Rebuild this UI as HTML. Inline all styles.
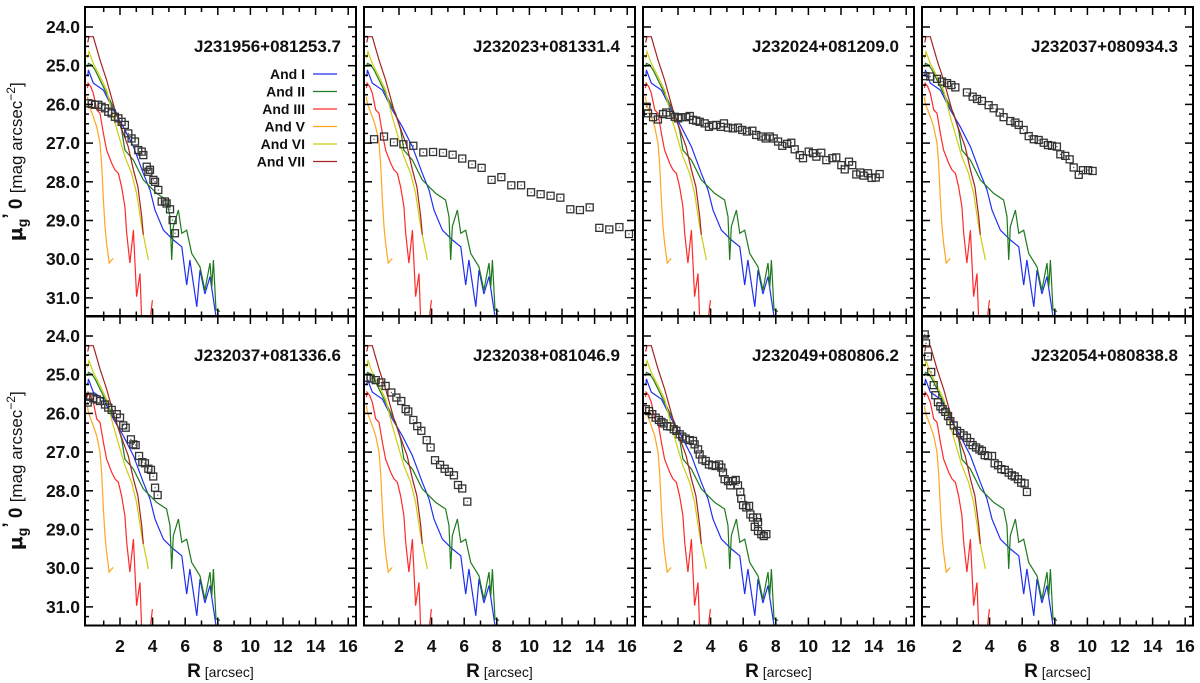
<!DOCTYPE html>
<html><head><meta charset="utf-8"><style>
html,body{margin:0;padding:0;background:#fff;}
svg{display:block;font-family:"Liberation Sans",Arial,sans-serif;}
</style></head><body>
<svg id="chart" width="1200" height="683" viewBox="0 0 1200 683" xmlns="http://www.w3.org/2000/svg"></svg>
<script>
// ---- data ----
const panelTitles=["J231956+081253.7","J232023+081331.4","J232024+081209.0","J232037+080934.3","J232037+081336.6","J232038+081046.9","J232049+080806.2","J232054+080838.8"];
const xTicks=[2,4,6,8,10,12,14,16];
const yTicks=[24,25,26,27,28,29,30,31];
const refNames=["And I","And II","And III","And V","And VI","And VII"];
const refColors=["#1f2ff0","#1e7a1e","#ff2a2a","#ffa520","#cccc10","#a52222"];
const andI_R=[0.02,0.06,0.36,0.98,1.59,2.2,2.82,3.43,3.84,4.15,4.66,5.27,5.79,6.09,6.29,6.71,6.91,7.21,7.52,7.83,8.0];
const andI_M=[25.28,25.11,25.45,25.63,26.14,26.58,27.09,27.78,28.21,28.73,29.25,29.5,29.68,30.67,30.02,31.23,30.28,30.9,30.45,31.31,31.8];
const andII_R=[0.0,0.06,0.26,0.47,0.77,1.38,1.79,2.1,2.3,2.82,3.43,4.25,4.86,5.07,5.17,5.27,5.58,5.79,6.09,6.4,6.91,7.21,7.52,7.63,7.73,7.89,8.14];
const andII_M=[25.03,24.94,24.98,25.11,25.37,25.89,26.23,26.66,27.18,27.44,27.95,28.3,28.47,28.9,30.02,29.16,28.73,29.33,29.25,29.85,30.2,30.8,30.1,30.71,30.02,31.31,31.35];
const andIII_R=[0.0,0.04,0.2,0.36,0.57,0.77,0.98,1.18,1.49,1.69,1.9,2.1,2.3,2.41,2.61,2.82,3.02,3.23,3.33,null,3.84,3.99];
const andIII_M=[25.58,25.45,25.54,25.71,26.14,26.23,26.75,27.18,27.52,27.69,27.78,28.13,28.64,29.33,30.1,29.25,30.97,30.37,31.6,null,31.6,31.06];
const andV_R=[0.0,0.06,0.36,0.57,0.77,0.87,0.98,1.08,1.18,1.34,1.49,1.59];
const andV_M=[25.8,25.98,26.32,26.58,27.0,27.52,28.47,29.16,29.59,30.1,30.02,29.98];
const andVI_R=[0.0,0.1,0.36,0.77,1.18,1.59,2.0,2.3,2.71,3.02,3.33,3.74];
const andVI_M=[24.81,24.64,24.94,25.28,25.63,26.32,26.92,27.35,27.78,28.3,29.16,30.02];
const andVII_R=[0.02,0.1,0.36,0.77,1.18,1.69,2.2,2.5,2.82,3.1,3.33,3.43];
const andVII_M=[24.4,24.25,24.25,24.85,25.37,26.14,26.75,27.09,27.69,28.13,28.9,29.37];
const refR=[andI_R,andII_R,andIII_R,andV_R,andVI_R,andVII_R];
const refM=[andI_M,andII_M,andIII_M,andV_M,andVI_M,andVII_M];
const obj1_R=[0.06,0.26,0.47,0.67,0.87,1.08,1.28,1.49,1.69,1.9,2.1,2.3,2.51,2.71,2.92,3.12,3.33,3.43,3.64,3.74,3.84,4.05,4.15,4.35,4.56,4.76,4.86,5.07,5.23,5.37];
const obj1_M=[25.97,25.99,26.01,26.01,26.06,26.1,26.19,26.23,26.32,26.36,26.45,26.53,26.75,26.88,26.96,27.18,27.22,27.31,27.61,27.74,27.69,27.95,28.0,28.21,28.51,28.51,28.56,28.71,28.99,29.33];
const obj2_R=[0.47,1.08,1.69,2.27,2.88,3.49,4.09,4.7,5.29,5.88,6.48,7.07,7.68,8.28,8.89,9.49,10.1,10.69,11.3,11.9,12.51,13.1,13.7,14.29,14.9,15.52,16.11];
const obj2_M=[26.9,26.83,26.98,27.03,27.07,27.24,27.23,27.25,27.3,27.4,27.55,27.64,27.95,27.88,28.09,28.09,28.27,28.32,28.36,28.41,28.71,28.73,28.66,29.19,29.23,29.17,29.35];
const obj3_R=[0.06,0.16,0.47,0.77,1.08,1.28,1.49,1.8,2.0,2.2,2.51,2.72,2.92,3.12,3.33,3.64,3.9,4.15,4.35,4.62,4.82,5.07,5.37,5.68,5.94,6.23,6.56,6.8,7.11,7.38,7.63,7.87,8.14,8.4,8.69,8.95,9.16,9.47,9.67,10.02,10.28,10.49,10.79,11.1,11.47,11.71,12.02,12.23,12.49,12.69,12.94,13.18,13.39,13.66,13.88,14.13,14.37];
const obj3_M=[26.06,26.23,26.33,26.39,26.25,26.21,26.27,26.32,26.36,26.33,26.33,26.3,26.4,26.42,26.45,26.49,26.58,26.54,26.53,26.58,26.49,26.6,26.62,26.6,26.66,26.7,26.68,26.79,26.83,26.88,26.83,26.88,26.96,27.07,27.02,26.99,27.16,27.31,27.39,27.22,27.26,27.35,27.25,27.44,27.39,27.37,27.57,27.68,27.48,27.57,27.81,27.76,27.84,27.78,27.9,27.89,27.8];
const obj4_R=[0.06,0.36,0.77,1.08,1.39,1.65,1.9,2.61,2.96,3.23,3.53,3.94,4.25,4.62,4.86,5.27,5.58,5.79,6.09,6.4,6.71,7.01,7.32,7.58,7.83,8.13,8.34,8.64,8.91,9.16,9.47,9.73,10.04,10.32];
const obj4_M=[25.27,25.28,25.34,25.41,25.45,25.5,25.56,25.69,25.8,25.86,25.91,26.02,26.1,26.21,26.33,26.43,26.47,26.53,26.66,26.82,26.9,26.92,26.99,27.05,27.07,27.09,27.29,27.33,27.42,27.63,27.82,27.7,27.7,27.72];
const obj5_R=[0.02,0.16,0.36,0.57,0.77,1.08,1.28,1.49,1.8,2.0,2.2,2.35,2.67,2.82,2.96,3.17,3.37,3.53,3.74,3.9,4.04,4.15,4.31];
const obj5_M=[25.72,25.57,25.61,25.64,25.68,25.77,25.85,25.91,26.02,26.11,26.31,26.37,26.67,26.8,26.82,27.1,27.26,27.29,27.43,27.46,27.63,27.92,28.11];
const obj6_R=[0.02,0.26,0.57,0.91,1.18,1.53,1.84,2.14,2.41,2.57,2.88,3.12,3.37,3.7,3.94,4.21,4.52,4.8,5.07,5.37,5.62,5.88,6.19];
const obj6_M=[25.08,25.1,25.14,25.2,25.29,25.46,25.59,25.68,25.89,25.95,26.17,26.33,26.45,26.69,26.88,27.21,27.33,27.43,27.51,27.6,27.85,27.94,28.28];
const obj7_R=[0.02,0.22,0.42,0.63,0.83,0.98,1.12,1.33,1.53,1.74,1.9,2.1,2.26,2.47,2.72,2.92,3.02,3.23,3.33,3.49,3.7,3.9,4.1,4.31,4.52,4.66,4.76,4.86,5.07,5.21,5.37,5.54,5.68,5.82,5.88,5.99,6.19,6.36,6.44,6.6,6.85,6.91,6.71,6.91,7.11,7.26,7.42];
const obj7_M=[25.89,25.94,26.02,26.11,26.17,26.22,26.26,26.33,26.34,26.41,26.45,26.54,26.6,26.65,26.69,26.71,26.8,26.93,27.06,27.19,27.23,27.32,27.34,27.36,27.32,27.4,27.53,27.7,27.75,27.86,27.75,27.72,27.86,28.03,28.2,28.37,28.43,28.39,28.61,28.69,28.69,28.81,28.93,29.04,29.12,29.17,29.12];
const obj8_R=[0.02,0.1,0.22,0.42,0.57,0.67,0.83,0.98,1.12,1.28,1.45,1.59,1.8,2.0,2.2,2.41,2.61,2.82,2.96,3.17,3.37,3.53,3.7,3.9,4.15,4.31,4.52,4.72,4.93,5.17,5.37,5.54,5.74,5.94,6.15,6.29];
const obj8_M=[23.96,24.19,24.53,24.93,25.27,25.53,25.71,25.82,25.89,25.96,26.07,26.2,26.31,26.45,26.51,26.57,26.63,26.74,26.82,26.88,26.93,26.97,27.08,27.1,27.1,27.29,27.34,27.44,27.46,27.53,27.6,27.63,27.7,27.79,27.81,28.03];
const objR=[obj1_R,obj2_R,obj3_R,obj4_R,obj5_R,obj6_R,obj7_R,obj8_R];
const objM=[obj1_M,obj2_M,obj3_M,obj4_M,obj5_M,obj6_M,obj7_M,obj8_M];

// ---- layout ----
const NS="http://www.w3.org/2000/svg";
const svg=document.getElementById('chart');
const lefts=[85,364,643,922], tops=[7,316];
const PW=271, PH=309.5, PXU=16.3, PMAG=38.7;
function mk(tag,attrs,parent){const e=document.createElementNS(NS,tag);for(const k in attrs)e.setAttribute(k,attrs[k]);(parent||svg).appendChild(e);return e;}
const defs=mk('defs',{});

for(let p=0;p<8;p++){
  const col=p%4,row=Math.floor(p/4);
  const L=lefts[col],T=tops[row];
  const xs=r=>L+2.4+r*PXU;
  const ys=m=>T+20+(m-24)*PMAG;
  const g=mk('g',{});
  
  
  const cp=mk('clipPath',{id:'cp'+p},defs);
  mk('rect',{x:L,y:T,width:PW,height:PH},cp);
  const plot=mk('g',{'clip-path':'url(#cp'+p+')'},g);
  for(let k=0;k<refR.length;k++){
    let d='',pen=false;
    for(let i=0;i<refR[k].length;i++){
      if(refR[k][i]===null){pen=false;continue;}
      d+=(pen?'L':'M')+xs(refR[k][i]).toFixed(1)+','+ys(refM[k][i]).toFixed(1);pen=true;
    }
    const path=mk('path',{d:d,fill:'none',stroke:refColors[k],'stroke-width':1.2},plot);
    
    
  }
  for(let i=0;i<objR[p].length;i++){
    const x=xs(objR[p][i]),y=ys(objM[p][i]);
    const r=mk('rect',{x:x-3.5,y:y-3.5,width:7,height:7,fill:'none',stroke:'#333','stroke-width':1.3},plot);
    
    
    mk('rect',{x:x-0.6,y:y-0.6,width:1.2,height:1.2,fill:'#555'},plot);
  }
  const fr=mk('rect',{x:L,y:T,width:PW,height:PH,fill:'none',stroke:'#000','stroke-width':2},g);
  
  
  for(let v=1;v<=16;v++){
    const x=xs(v),len=(v%2===0)?8:5;
    mk('line',{x1:x,y1:T+PH,x2:x,y2:T+PH-len,stroke:'#000','stroke-width':1.5},g);
    mk('line',{x1:x,y1:T,x2:x,y2:T+len,stroke:'#000','stroke-width':1.5},g);
  }
  for(let m=24;m<=31.5;m+=0.25){
    const y=ys(m);if(y<T+1||y>T+PH-1)continue;
    const len=(Math.abs(m-Math.round(m))<0.01)?8:4;
    mk('line',{x1:L,y1:y,x2:L+len,y2:y,stroke:'#000','stroke-width':1.5},g);
    mk('line',{x1:L+PW,y1:y,x2:L+PW-len,y2:y,stroke:'#000','stroke-width':1.5},g);
  }
  const t=mk('text',{x:L+PW-15,y:T+45,'text-anchor':'end','font-size':17,'font-weight':'bold',fill:'#111'},g);
  t.textContent=panelTitles[p];
  
  
  if(col===0){
    for(const m of yTicks){
      const yl=mk('text',{x:L-5,y:ys(m)+6,'text-anchor':'end','font-size':17.5,'font-weight':'bold',fill:'#111'},svg);
      yl.textContent=m.toFixed(1);
      
      
    }
    const cy=T+PH/2;
    const yt=mk('text',{transform:'translate(22,'+cy+') rotate(-90)','text-anchor':'middle','font-size':19,fill:'#111'},svg);
    yt.innerHTML='<tspan font-weight="bold" font-family="DejaVu Sans">μ</tspan><tspan font-weight="bold" font-size="14" dy="5">g</tspan><tspan font-weight="bold" dy="-11">’</tspan><tspan font-weight="bold" dy="6"> 0 </tspan><tspan font-size="17">[mag arcsec</tspan><tspan font-size="12" dy="-7">−2</tspan><tspan font-size="17" dy="7">]</tspan>';
    
    
  }
  if(row===1){
    for(const v of xTicks){
      const xl=mk('text',{x:xs(v),y:652,'text-anchor':'middle','font-size':17.5,'font-weight':'bold',fill:'#111'},svg);
      xl.textContent=v;
      
      
    }
    const xt=mk('text',{x:L+PW/2,y:677,'text-anchor':'middle','font-size':17,fill:'#111'},svg);
    xt.innerHTML='<tspan font-weight="bold" font-size="19">R</tspan><tspan font-size="14"> [arcsec]</tspan>';
    
    
  }
  if(p===0){
    const lg=mk('g',{},svg);
    
    
    for(let k=0;k<refNames.length;k++){
      const y=74+k*17.5;
      const lt=mk('text',{x:305,y:y+5,'text-anchor':'end','font-size':14,'font-weight':'bold',fill:'#111'},lg);
      lt.textContent=refNames[k];
      
      
      mk('line',{x1:313,y1:y,x2:337,y2:y,stroke:refColors[k],'stroke-width':1.3},lg);
    }
  }
  svg.appendChild(g);
}
</script>
</body></html>
